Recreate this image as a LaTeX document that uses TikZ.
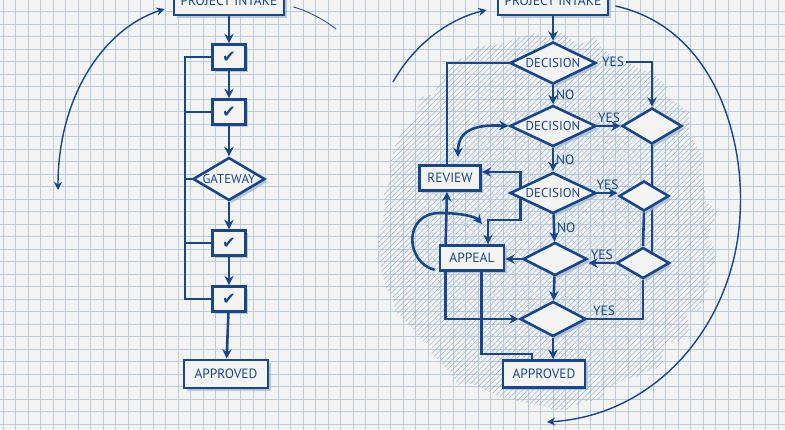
\documentclass[tikz,border=0pt]{standalone}
\usepackage{fontspec}
\setmainfont{PT Sans}
\newfontfamily\checkfont{DejaVu Sans}
\usetikzlibrary{shapes.geometric,arrows.meta,patterns.meta,shadows,decorations.pathmorphing}
\definecolor{ink}{HTML}{17468C}
\definecolor{paper}{HTML}{F3F3F1}
\definecolor{gridblue}{HTML}{B9CDE2}
\definecolor{hatch}{HTML}{9FB5D0}
\newcommand{\pxu}{0.03cm}
\pgfdeclarelayer{bg}
\pgfdeclarelayer{under}
\pgfsetlayers{bg,under,main}
\begin{document}
\begin{tikzpicture}[x=0.03cm, y=-0.03cm,
  flow/.style={draw=ink, line width=2.2pt, -{Stealth[length=8pt,width=8pt]}},
  both/.style={draw=ink, line width=2.2pt, {Stealth[length=8pt,width=8pt]}-{Stealth[length=8pt,width=8pt]}},
  wire/.style={draw=ink, line width=2.2pt},
  swing/.style={draw=ink, line width=1.2pt},
  box/.style={rectangle, draw=ink, line width=2.4pt, fill=paper, text=ink, inner sep=0pt, font=\fontsize{11.5}{12}\selectfont, drop shadow={shadow xshift=2.5pt, shadow yshift=-2.5pt, fill=hatch, opacity=.7}},
  tick/.style={box, font=\checkfont\fontsize{14}{14}\selectfont},
  dia/.style={diamond, aspect=2, draw=ink, line width=2.2pt, fill=paper, text=ink, inner sep=0pt, font=\fontsize{11}{12}\selectfont, drop shadow={shadow xshift=2.5pt, shadow yshift=-2.5pt, fill=hatch, opacity=.7}},
  lbl/.style={text=ink, inner sep=1.5pt, font=\fontsize{11.5}{12}\selectfont}]
\useasboundingbox (0,0) rectangle (785,430);

\begin{pgfonlayer}{bg}
\fill[paper] (0,0) rectangle (785,430);
\foreach \i in {0,...,62} \draw[gridblue, line width=0.6pt] ({3.3+12.5*\i},0) -- ({3.3+12.5*\i},430);
\foreach \j in {1,...,34} \draw[gridblue, line width=0.6pt] (0,{-0.8+12.5*\j}) -- (785,{-0.8+12.5*\j});
\fill[pattern={Lines[angle=45,distance=3.2pt,line width=0.45pt]}, pattern color=hatch, decorate, decoration={random steps, segment length=12pt, amplitude=6pt}] (548,222) ellipse [x radius=165, y radius=185];
\fill[pattern={Lines[angle=-45,distance=5pt,line width=0.35pt]}, pattern color=hatch!60, decorate, decoration={random steps, segment length=12pt, amplitude=6pt}] (540,235) ellipse [x radius=120, y radius=135];
\end{pgfonlayer}

\node[box, minimum width=110*\pxu, minimum height=28*\pxu] (intakeA) at (229,1) {PROJECT INTAKE};
\node[tick, minimum width=33*\pxu, minimum height=25*\pxu] (chkA) at (229,57) {✔};
\node[tick, minimum width=33*\pxu, minimum height=25*\pxu] (chkB) at (229,112) {✔};
\node[dia, minimum width=72*\pxu, minimum height=43*\pxu] (gate) at (229,179) {GATEWAY};
\node[tick, minimum width=33*\pxu, minimum height=25*\pxu] (chkC) at (229,243) {✔};
\node[tick, minimum width=33*\pxu, minimum height=25*\pxu] (chkD) at (229,299) {✔};
\node[box, minimum width=84*\pxu, minimum height=28*\pxu] (doneA) at (226,374) {APPROVED};

\node[box, minimum width=110*\pxu, minimum height=28*\pxu] (intakeB) at (553,1) {PROJECT INTAKE};
\node[dia, minimum width=86*\pxu, minimum height=42*\pxu] (decA) at (553,63) {DECISION};
\node[dia, minimum width=86*\pxu, minimum height=41*\pxu] (decB) at (553,126) {DECISION};
\node[dia, minimum width=86*\pxu, minimum height=41*\pxu] (decC) at (553,193) {DECISION};
\node[dia, minimum width=64*\pxu, minimum height=33*\pxu] (decD) at (555,259) {};
\node[dia, minimum width=66*\pxu, minimum height=35*\pxu] (decE) at (553,319) {};
\node[box, minimum width=82*\pxu, minimum height=27*\pxu] (doneB) at (544,374) {APPROVED};
\node[dia, minimum width=60*\pxu, minimum height=36*\pxu] (sideA) at (652,126) {};
\node[dia, minimum width=50*\pxu, minimum height=30*\pxu] (sideB) at (644,196) {};
\node[dia, minimum width=53*\pxu, minimum height=31*\pxu] (sideC) at (643,263) {};
\node[box, minimum width=61*\pxu, minimum height=25*\pxu] (review) at (450,178) {REVIEW};
\node[box, minimum width=64*\pxu, minimum height=25*\pxu] (appeal) at (472,258) {APPEAL};

\draw[flow] (intakeA) -- (chkA);
\draw[flow] (chkA) -- (chkB);
\draw[flow] (chkB) -- (gate);
\draw[flow] (gate) -- (chkC);
\draw[flow] (chkC) -- (chkD);
\draw[flow] (chkD) -- (doneA);
\coordinate (rail) at (185,299);
\draw[wire] (chkA.west) -| (rail) -- (chkD.west);
\foreach \n in {chkB,gate,chkC} \draw[wire] (\n.west) -- (\n.west -| rail);

\draw[flow] (intakeB) -- (decA);
\draw[flow] (decA) -- node[lbl, right] (noA) {NO} (decB);
\draw[flow] (decB) -- node[lbl, right] (noB) {NO} (decC);
\draw[flow] (decC) -- node[lbl, right] (noC) {NO} (decD);
\draw[flow] (decD) -- (decE);
\draw[flow] (decE.south) -- (decE.south |- doneB.north);
\node[lbl] (yesA) at (613,62) {YES};
\draw[flow] (yesA.east) -| (sideA.north);
\draw[flow] (decB.east) -- node[lbl, above] (yesB) {YES} (sideA.west);
\draw[flow] (decC.east) -- node[lbl, above] (yesC) {YES} (decC.east -| sideB.west);
\draw[flow] (sideC.west) -- node[lbl, above] (yesD) {YES} (sideC.west -| decD.east);
\draw[wire] (sideC.south) |- node[lbl, above, pos=0.85] (yesE) {YES} (decE.east);
\begin{pgfonlayer}{under}
\draw[wire] (sideA.south) -- (sideA.south |- sideC.north east);
\draw[wire] (sideB.south) -- (sideC.north);
\end{pgfonlayer}

\draw[wire] (decA.west) -| ([shift={(-3,0)}]review.north);
\draw[both] (decB.west) .. controls (472,124) and (458,132) .. ([shift={(8,-7)}]review.north);
\draw[flow] ([shift={(12,-6)}]decC.west) |- ([shift={(0,-6)}]review.east);
\draw[flow] ([shift={(12,6)}]decC.west) -- ++(0,21) -| ([shift={(16,0)}]appeal.north);
\draw[flow] ([shift={(7,0)}]appeal.north west) -- ([shift={(-3,0)}]review.south);
\draw[flow] ([shift={(7,0)}]appeal.south west) |- (decE.west);
\draw[wire] ([shift={(-24,0)}]appeal.south east) -- ++(0,82) -| ([shift={(-12,0)}]doneB.north);
\draw[flow] (decD.west) -- (decD.west -| appeal.east);
\draw[flow] ([shift={(-4,-2)}]appeal.south west) .. controls (405,262) and (403,213) .. (440,213) .. controls (462,213) and (476,217) .. ([shift={(10,-20)}]appeal.north);

\coordinate (arcL) at (58,190);
\draw[swing, {Stealth[length=7pt,width=7pt]}-{Stealth[length=7pt,width=7pt]}] (arcL) .. controls (58,95) and (105,28) .. ([shift={(-8,8)}]intakeA.west);
\coordinate (arcT) at (336,29);
\draw[swing, line width=0.7pt] ([shift={(8,6)}]intakeA.east) .. controls (305,10) and (322,18) .. (arcT);
\coordinate (arcM) at (393,82);
\draw[swing, -{Stealth[length=7pt,width=7pt]}] (arcM) .. controls (412,48) and (445,20) .. ([shift={(-10,9)}]intakeB.west);
\coordinate (arcR) at (547,422);
\draw[swing, -{Stealth[length=7pt,width=7pt]}] ([shift={(6,5)}]intakeB.east) .. controls (715,28) and (745,140) .. (740,215) .. controls (735,320) and (660,415) .. (arcR);
\end{tikzpicture}
\end{document}
